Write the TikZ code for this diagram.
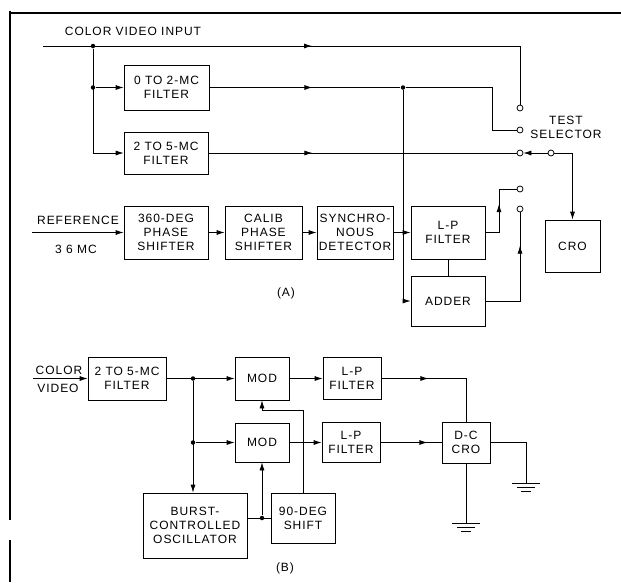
\documentclass[tikz,border=0pt]{standalone}
\usepackage{fontspec}
\setmainfont{Liberation Sans}[LetterSpace=8]
\usetikzlibrary{arrows.meta,decorations.markings}

\begin{document}
\begin{tikzpicture}[x=1pt,y=-1pt,>={Latex[length=8pt,width=5pt]},line width=0.75pt,
  font=\fontsize{12}{14}\selectfont,
  box/.style={draw,align=center,inner sep=0pt},
  contact/.style={draw,circle,fill=white,inner sep=0pt,minimum size=6pt},
  dot/.style={circle,fill,inner sep=0pt,minimum size=4.5pt},
  tipat/.style={postaction={decorate,decoration={markings,mark=at position #1 with {\arrow{>}}}}},
  gnd/.pic={\draw (-14,0) -- (14,0) (-9,4) -- (9,4) (-5,8) -- (5,8);}]
  \useasboundingbox (0,0) rectangle (621,582);
  % frame
  \draw[line width=1.3pt] (10,13) -- (621,13);
  \draw[line width=1.3pt] (10,11) -- (10,520) (10,540) -- (10,582);

  % (A)
  \node (tin)  at (133,31)  {COLOR VIDEO INPUT};
  \node[box,minimum width=85pt,minimum height=45pt] (f02)   at (166.5,87.5) {0 TO 2-MC\\FILTER};
  \node[box,minimum width=84pt,minimum height=42pt] (f25)   at (166,153)    {2 TO 5-MC\\FILTER};
  \node[box,minimum width=84pt,minimum height=53pt] (ph360) at (166,232.5)  {360-DEG\\PHASE\\SHIFTER};
  \node[box,minimum width=77pt,minimum height=53pt] (calib) at (263.5,232.5) {CALIB\\PHASE\\SHIFTER};
  \node[box,minimum width=76pt,minimum height=53pt] (sync)  at (355,232.5)  {SYNCHRO-\\NOUS\\DETECTOR};
  \node[box,minimum width=74pt,minimum height=53pt] (lpA)   at (448,232.5)  {L-P\\FILTER};
  \node[box,minimum width=74pt,minimum height=50pt] (adder) at (448,301)    {ADDER};
  \node[box,minimum width=55pt,minimum height=52pt] (cro)   at (572.5,246)  {CRO};
  \node (tref) at (78,220)  {REFERENCE};
  \node (tmc)  at (76,249)  {3 6 MC};
  \node[align=center] (tsel) at (566,127) {TEST\\SELECTOR};
  \node (ta)   at (286,293) {(A)};

  \coordinate (vin) at (43,46);
  \coordinate (ref) at (32,232.5);
  \coordinate (k1)  at (492,87.5);
  \coordinate (k2)  at (499,232.5);
  \node[dot] (j1) at (93,46)    {};
  \node[dot] (j2) at (93,87.5)  {};
  \node[dot] (j3) at (403,87.5) {};
  \node[contact] (s1) at (520,108) {};
  \node[contact] (s2) at (520,130) {};
  \node[contact] (s3) at (520,153) {};
  \node[contact] (s4) at (551,153) {};
  \node[contact] (s5) at (520,189) {};
  \node[contact] (s6) at (520,209) {};

  \draw[tipat=269pt] (vin) -- (s1 |- vin) -- (s1);
  \draw[->] (j1) |- (f25);
  \draw[->] (j2) -- (f02);
  \draw[tipat=103pt] (f02) -- (j3) -- (k1) |- (s2);
  \draw[tipat=104pt] (f25) -- (s3);
  \draw[->] (s4) -- (s3);
  \draw[->] (s4) -| (cro);
  \draw[->] (ref) -- (ph360);
  \draw[->] (ph360) -- (calib);
  \draw[->] (calib) -- (sync);
  \draw[->] (sync) -- (lpA);
  \draw[->] (j3) |- (adder);
  \draw (lpA) -- (adder);
  \draw[tipat=42pt] (lpA) -- (k2) |- (s5);
  \draw[tipat=90pt] (adder) -| (s6);

  % (B)
  \node (tcol) at (59,370) {COLOR};
  \node (tvid) at (58,388) {VIDEO};
  \node[box,minimum width=78pt,minimum height=43pt]  (fB)    at (127,378.5) {2 TO 5-MC\\FILTER};
  \node[box,minimum width=54pt,minimum height=43pt]  (mod1)  at (262,378.5) {MOD};
  \node[box,minimum width=54pt,minimum height=39pt]  (mod2)  at (262,442.5) {MOD};
  \node[box,minimum width=104pt,minimum height=65pt] (burst) at (195,525.5) {BURST-\\CONTROLLED\\OSCILLATOR};
  \node[box,minimum width=64pt,minimum height=50pt]  (shift) at (303,518)   {90-DEG\\SHIFT};
  \node[box,minimum width=58pt,minimum height=42pt]  (lp1)   at (352,378.5) {L-P\\FILTER};
  \node[box,minimum width=58pt,minimum height=40pt]  (lp2)   at (351,442.5) {L-P\\FILTER};
  \node[box,minimum width=48pt,minimum height=41pt]  (dccro) at (466,442.5) {D-C\\CRO};
  \node (tb)   at (285,568) {(B)};

  \coordinate (vid) at (33,378.5);
  \coordinate (k3)  at (262,410);
  \coordinate (k4)  at (526,442.5);
  \coordinate (g1)  at (526,483);
  \coordinate (g2)  at (466,523);
  \node[dot] (j4) at (193,378.5) {};
  \node[dot] (j5) at (193,442.5) {};
  \node[dot] (j6) at (262,518)   {};

  \draw[->] (vid) -- (fB);
  \draw[->] (fB) -- (mod1);
  \draw[->] (j4) -- (j4 |- burst.north);
  \draw[->] (j5) -- (mod2);
  \draw (j6 -| burst.east) -- (shift);
  \draw[->] (j6) -- (mod2);
  \draw[->] (shift) |- (k3) -- (mod1);
  \draw[->] (mod1) -- (lp1);
  \draw[->] (mod2) -- (lp2);
  \draw[tipat=47pt] (lp1) -| (dccro);
  \draw[tipat=47pt] (lp2) -- (dccro);
  \draw (dccro) -- (k4) -- (g1);
  \draw (dccro) -- (g2);
  \pic at (g1) {gnd};
  \pic at (g2) {gnd};
\end{tikzpicture}
\end{document}
